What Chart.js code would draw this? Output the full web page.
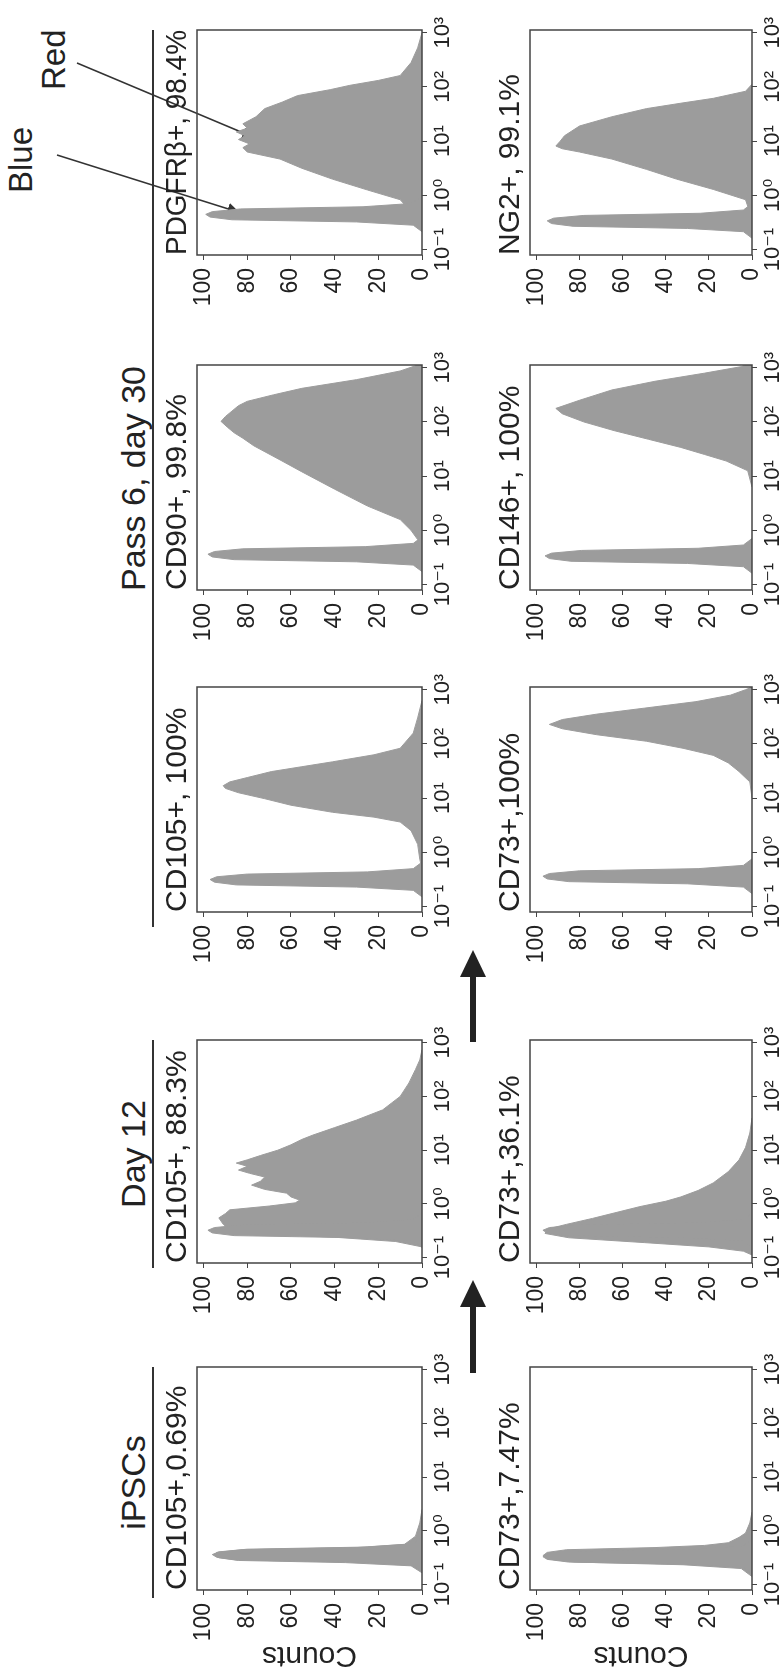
<!DOCTYPE html>
<html>
<head>
<meta charset="utf-8">
<script src="https://cdn.jsdelivr.net/npm/chart.js@4.4.1/dist/chart.umd.min.js"></script>
<style>
  html, body { margin: 0; padding: 0; background: #fff; overflow: hidden; }
  body { width: 784px; height: 1678px; position: relative; }
  /* the figure is laid out upright, then turned a quarter to the left */
  #fig {
    position: absolute; left: 0; top: 0;
    width: 1678px; height: 784px;
    transform-origin: 0 0;
    transform: translateY(1678px) rotate(-90deg);
    font-family: 'Liberation Sans', Arial, sans-serif;
    color: #222;
  }
  #fig canvas { position: absolute; }
  .grp { position: absolute; top: 115px; height: 36px; line-height: 36px; font-size: 34px; text-align: center; }
  .rule { position: absolute; top: 152px; height: 0; border-top: 2px solid #333; }
  .note { position: absolute; font-size: 33px; line-height: 36px; }
  svg { position: absolute; left: 0; top: 0; }
</style>
</head>
<body>
<div id="fig">
  <div class="grp" style="left:80px;width:231px">iPSCs</div>
  <div class="grp" style="left:410px;width:228px">Day 12</div>
  <div class="grp" style="left:751px;width:897px">Pass 6, day 30</div>
  <div class="rule" style="left:80px;width:231px"></div>
  <div class="rule" style="left:410px;width:228px"></div>
  <div class="rule" style="left:751px;width:897px"></div>
  <div class="note" style="left:1485px;top:3px">Blue</div>
  <div class="note" style="left:1588px;top:36px">Red</div>
  <svg width="1678" height="784">
    <defs>
      <marker id="tip" markerWidth="8" markerHeight="8" refX="7" refY="4" orient="auto">
        <path d="M0,0 L8,4 L0,8 z" fill="#333"/>
      </marker>
    </defs>
    <!-- arrows between the stages -->
    <line x1="305" y1="473" x2="375" y2="473" stroke="#222" stroke-width="6"/>
    <polygon points="371,460 398,473 371,486" fill="#222"/>
    <line x1="636" y1="473" x2="705" y2="473" stroke="#222" stroke-width="6"/>
    <polygon points="701,460 728,473 701,486" fill="#222"/>
    <!-- pointers to the two curves -->
    <line x1="1523" y1="57" x2="1466" y2="238" stroke="#333" stroke-width="1.5" marker-end="url(#tip)"/>
    <line x1="1615" y1="77" x2="1541" y2="253" stroke="#333" stroke-width="1.5" marker-end="url(#tip)"/>
  </svg>
</div>

<script>
// --- axis ticks ---
const xTickValues = [-1, 0, 1, 2, 3];
const xTickLabels = ['10⁻¹', '10⁰', '10¹', '10²', '10³'];
const yTickValues = [0, 20, 40, 60, 80, 100];

// --- panel titles (top row / bottom row) ---
const row1Titles = ['CD105+,0.69%', 'CD105+, 88.3%', 'CD105+, 100%', 'CD90+, 99.8%', 'PDGFRβ+, 98.4%'];
const row2Titles = ['CD73+,7.47%', 'CD73+,36.1%', 'CD73+,100%', 'CD146+, 100%', 'NG2+, 99.1%'];

// --- histograms: [log10 fluorescence, counts], blue = control, red = marker ---
const ipscCD105Blue = [[-0.76,0],[-0.64,4],[-0.58,30],[-0.54,85],[-0.49,94],[-0.44,96],[-0.39,93],[-0.34,80],[-0.3,25],[-0.24,4],[-0.12,0]];
const ipscCD105Red = [[-0.78,0],[-0.65,5],[-0.59,35],[-0.55,84],[-0.5,93],[-0.45,95],[-0.4,94],[-0.35,82],[-0.31,30],[-0.25,8],[-0.1,3],[0.15,1],[0.4,0]];

const ipscCD73Blue = [[-0.8,0],[-0.68,4],[-0.62,30],[-0.58,85],[-0.53,95],[-0.48,97],[-0.43,94],[-0.38,80],[-0.34,25],[-0.28,4],[-0.16,0]];
const ipscCD73Red = [[-0.85,0],[-0.7,5],[-0.63,32],[-0.58,82],[-0.52,95],[-0.46,97],[-0.4,95],[-0.35,86],[-0.31,45],[-0.27,22],[-0.22,11],[-0.12,6],[-0.04,3],[0.15,1],[0.35,0]];

const day12CD105Blue = [[-0.81,0],[-0.69,4],[-0.63,30],[-0.59,86],[-0.54,96],[-0.49,98],[-0.44,95],[-0.39,82],[-0.35,26],[-0.29,4],[-0.17,0]];
const day12CD105Red = [[-0.8,0],[-0.7,12],[-0.62,40],[-0.55,75],[-0.48,88],[-0.38,91],[-0.26,93],[-0.18,90],[-0.11,88],[-0.04,70],[0.02,58],[0.07,56],[0.13,60],[0.2,62],[0.27,72],[0.35,78],[0.42,74],[0.5,72],[0.57,79],[0.63,84],[0.7,80],[0.76,85],[0.82,80],[0.9,74],[1.0,66],[1.1,60],[1.2,55],[1.28,50],[1.42,40],[1.56,30],[1.75,18],[2.0,10],[2.25,6],[2.5,3],[2.68,1],[2.87,0]];

const day12CD73Blue = [[-0.81,0],[-0.69,4],[-0.63,30],[-0.59,85],[-0.54,95],[-0.49,97],[-0.44,94],[-0.39,80],[-0.35,26],[-0.29,4],[-0.17,0]];
const day12CD73Red = [[-0.95,0],[-0.88,4],[-0.8,20],[-0.72,50],[-0.63,85],[-0.55,96],[-0.47,95],[-0.38,86],[-0.27,74],[-0.17,64],[-0.05,52],[0.05,40],[0.13,33],[0.25,25],[0.39,18],[0.6,11],[0.82,6],[1.05,3],[1.32,1],[1.6,0]];

const pass6CD105Blue = [[-0.82,0],[-0.7,4],[-0.64,30],[-0.6,85],[-0.55,95],[-0.5,97],[-0.45,94],[-0.4,80],[-0.36,25],[-0.3,4],[-0.18,0]];
const pass6CD105Red = [[-0.3,0],[-0.13,1],[0.15,2],[0.4,5],[0.56,10],[0.65,22],[0.74,41],[0.87,60],[0.99,72],[1.1,84],[1.18,90],[1.23,91],[1.3,88],[1.38,80],[1.49,69],[1.58,55],[1.67,41],[1.8,22],[1.92,10],[2.2,4],[2.48,2],[2.8,0]];

const pass6CD73Blue = [[-0.76,0],[-0.64,4],[-0.58,30],[-0.54,85],[-0.49,95],[-0.44,97],[-0.39,94],[-0.34,80],[-0.3,25],[-0.24,4],[-0.12,0]];
const pass6CD73Red = [[1.0,0],[1.3,1],[1.49,6],[1.65,11],[1.79,18],[1.92,32],[2.05,49],[2.17,72],[2.28,88],[2.36,94],[2.45,88],[2.55,72],[2.66,50],[2.78,26],[2.9,10],[3.0,3],[3.05,0]];

const cd90Blue = [[-0.76,0],[-0.64,4],[-0.58,30],[-0.54,86],[-0.49,96],[-0.44,98],[-0.39,95],[-0.34,82],[-0.3,26],[-0.24,4],[-0.12,0]];
const cd90Red = [[-0.3,0],[-0.17,2],[0.0,5],[0.2,10],[0.45,25],[0.76,40],[1.08,55],[1.3,65],[1.56,77],[1.7,82],[1.8,86],[1.9,89],[2.01,92],[2.1,90],[2.2,87],[2.3,84],[2.38,80],[2.5,68],[2.62,55],[2.78,30],[2.94,10],[3.05,2]];

const cd146Blue = [[-0.79,0],[-0.67,4],[-0.61,30],[-0.57,84],[-0.52,94],[-0.47,96],[-0.42,93],[-0.37,79],[-0.33,25],[-0.27,4],[-0.15,0]];
const cd146Red = [[0.8,0],[1.1,2],[1.28,12],[1.4,22],[1.53,33],[1.68,48],[1.84,64],[2.0,78],[2.15,88],[2.25,91],[2.4,80],[2.59,65],[2.75,45],[2.9,22],[3.02,5],[3.1,0]];

const pdgfrbBlue = [[-0.67,0],[-0.55,4],[-0.49,30],[-0.45,87],[-0.4,97],[-0.35,99],[-0.3,96],[-0.25,83],[-0.21,27],[-0.15,5],[-0.03,0]];
const pdgfrbRed = [[-0.5,0],[-0.3,5],[-0.08,10],[0.1,25],[0.3,41],[0.5,55],[0.67,65],[0.8,80],[0.88,82],[0.95,79],[1.03,84],[1.1,81],[1.17,85],[1.24,80],[1.32,82],[1.45,76],[1.6,72],[1.72,64],[1.84,57],[1.95,42],[2.03,33],[2.12,20],[2.21,10],[2.45,5],[2.72,2],[3.0,0]];

const ng2Blue = [[-0.79,0],[-0.67,4],[-0.61,30],[-0.57,83],[-0.52,93],[-0.47,95],[-0.42,92],[-0.37,78],[-0.33,24],[-0.27,4],[-0.15,0]];
const ng2Red = [[-0.4,0],[-0.2,2],[-0.08,3],[0.11,18],[0.3,35],[0.48,49],[0.67,65],[0.8,80],[0.86,88],[0.91,91],[1.0,89],[1.1,87],[1.28,80],[1.45,65],[1.6,49],[1.7,33],[1.79,18],[1.92,3],[2.05,0]];

// --- where the plot boxes sit in the upright figure ---
const colLeft = [88, 415, 766, 1088, 1423];
const colWidth = [223, 223, 225, 225, 225];
const rowTop = [197, 530];
const rowHeight = [225, 222];

const panels = [
    { col: 0, row: 0, title: row1Titles[0], blue: ipscCD105Blue, red: ipscCD105Red },
    { col: 0, row: 1, title: row2Titles[0], blue: ipscCD73Blue, red: ipscCD73Red },
    { col: 1, row: 0, title: row1Titles[1], blue: day12CD105Blue, red: day12CD105Red },
    { col: 1, row: 1, title: row2Titles[1], blue: day12CD73Blue, red: day12CD73Red },
    { col: 2, row: 0, title: row1Titles[2], blue: pass6CD105Blue, red: pass6CD105Red },
    { col: 2, row: 1, title: row2Titles[2], blue: pass6CD73Blue, red: pass6CD73Red },
    { col: 3, row: 0, title: row1Titles[3], blue: cd90Blue, red: cd90Red },
    { col: 3, row: 1, title: row2Titles[3], blue: cd146Blue, red: cd146Red },
    { col: 4, row: 0, title: row1Titles[4], blue: pdgfrbBlue, red: pdgfrbRed },
    { col: 4, row: 1, title: row2Titles[4], blue: ng2Blue, red: ng2Red }
];

const FONT = "'Liberation Sans', 'DejaVu Sans', Arial, sans-serif";
const INK = '#222';
const FILL = '#9c9c9c';

// draws the closed frame round the plot area
const boxPlugin = {
    id: 'box',
    afterDatasetsDraw(chart) {
        const { ctx, chartArea: a } = chart;
        ctx.save();
        ctx.strokeStyle = '#444';
        ctx.lineWidth = 1.5;
        ctx.strokeRect(a.left, a.top, a.right - a.left, a.bottom - a.top);
        ctx.restore();
    }
};

const fig = document.getElementById('fig');

function toPoints(pairs) {
    return pairs.map(([x, y]) => ({ x: x, y: y }));
}

function curve(pairs) {
    return {
        data: toPoints(pairs),
        fill: 'origin',
        backgroundColor: FILL,
        borderColor: FILL,
        borderWidth: 1,
        pointRadius: 0,
        tension: 0
    };
}

function drawPanel(p) {
    const YW = 83, TH = 42, XH = 36, PR = 24;
    const w = colWidth[p.col];
    const h = rowHeight[p.row];
    const canvas = document.createElement('canvas');
    canvas.width = YW + w + PR;
    canvas.height = TH + h + XH;
    canvas.style.left = (colLeft[p.col] - YW) + 'px';
    canvas.style.top = (rowTop[p.row] - TH) + 'px';
    fig.appendChild(canvas);

    const chart = new Chart(canvas, {
        type: 'line',
        data: { datasets: [curve(p.blue), curve(p.red)] },
        options: {
            responsive: false,
            animation: false,
            devicePixelRatio: 1,
            layout: { padding: { left: 0, right: PR, top: 0, bottom: 0 } },
            plugins: {
                legend: { display: false },
                tooltip: { enabled: false },
                title: {
                    display: true,
                    text: p.title,
                    align: 'start',
                    fullSize: false,
                    color: INK,
                    font: { family: FONT, size: 30, weight: 'normal', lineHeight: 1 },
                    padding: { top: 8, bottom: 4 }
                }
            },
            scales: {
                x: {
                    type: 'linear',
                    min: -1.1,
                    max: 3.05,
                    border: { display: false },
                    grid: { drawOnChartArea: false, tickLength: 5, color: '#444' },
                    afterBuildTicks: s => { s.ticks = xTickValues.map(v => ({ value: v })); },
                    afterFit: s => { s.height = XH; },
                    ticks: {
                        autoSkip: false,
                        maxRotation: 0,
                        padding: 3,
                        color: INK,
                        font: { family: FONT, size: 22 },
                        callback: v => xTickLabels[xTickValues.indexOf(v)]
                    }
                },
                y: {
                    min: 0,
                    max: 103,
                    border: { display: false },
                    grid: { drawOnChartArea: false, tickLength: 5, color: '#444' },
                    afterBuildTicks: s => { s.ticks = yTickValues.map(v => ({ value: v })); },
                    afterFit: s => { s.width = YW; },
                    ticks: {
                        padding: 8,
                        color: INK,
                        font: { family: FONT, size: 23 }
                    },
                    title: {
                        display: p.col === 0,
                        text: 'Counts',
                        color: INK,
                        font: { family: FONT, size: 30 },
                        padding: { top: 0, bottom: 0 }
                    }
                }
            }
        },
        plugins: [boxPlugin]
    });

    // line the real plot area up with the target box
    const a = chart.chartArea;
    canvas.style.left = (colLeft[p.col] - a.left) + 'px';
    canvas.style.top = (rowTop[p.row] - a.top) + 'px';
}

panels.forEach(drawPanel);
</script>
</body>
</html>
